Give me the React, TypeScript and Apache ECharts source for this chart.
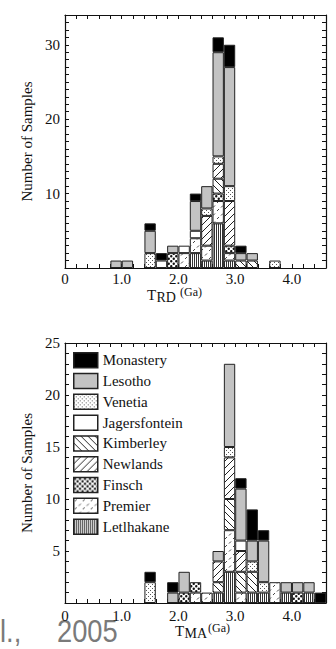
import React, { useEffect, useRef } from 'react';
import * as echarts from 'echarts';

// Histogram bins: 0.2 Ga wide, starting at 0.0 Ga (23 bins up to 4.6 Ga)
const BIN_WIDTH = 0.2;
const BIN_COUNT = 23;
const binLabels = Array.from({ length: BIN_COUNT }, (_, i) => (i * BIN_WIDTH).toFixed(1));

// Legend order (top to bottom)
const sites = ['Monastery', 'Lesotho', 'Venetia', 'Jagersfontein', 'Kimberley', 'Newlands', 'Finsch', 'Premier', 'Letlhakane'];
// Stacking order (bottom to top)
const stackOrder = ['Letlhakane', 'Premier', 'Finsch', 'Kimberley', 'Newlands', 'Jagersfontein', 'Venetia', 'Lesotho', 'Monastery'];

// T_RD model ages: samples per bin
const trdMonastery =    [0, 0, 0, 0, 0, 0, 0, 1, 1, 0, 0, 1, 0, 2, 3, 1, 0, 0, 0, 0, 0, 0, 0];
const trdLesotho =      [0, 0, 0, 0, 1, 1, 0, 3, 0, 1, 0, 4, 3, 14, 16, 1, 1, 0, 0, 0, 0, 0, 0];
const trdVenetia =      [0, 0, 0, 0, 0, 0, 0, 2, 0, 0, 0, 0, 1, 1, 2, 0, 0, 0, 1, 0, 0, 0, 0];
const trdJagersfontein = [0, 0, 0, 0, 0, 0, 0, 0, 1, 0, 1, 1, 0, 0, 0, 0, 0, 0, 0, 0, 0, 0, 0];
const trdKimberley =    [0, 0, 0, 0, 0, 0, 0, 0, 0, 0, 0, 0, 0, 2, 0, 1, 1, 0, 0, 0, 0, 0, 0];
const trdNewlands =     [0, 0, 0, 0, 0, 0, 0, 0, 0, 0, 0, 0, 4, 2, 6, 0, 0, 0, 0, 0, 0, 0, 0];
const trdFinsch =       [0, 0, 0, 0, 0, 0, 0, 0, 0, 2, 0, 0, 0, 1, 1, 0, 0, 0, 0, 0, 0, 0, 0];
const trdPremier =      [0, 0, 0, 0, 0, 0, 0, 0, 0, 0, 2, 2, 2, 3, 1, 0, 0, 0, 0, 0, 0, 0, 0];
const trdLetlhakane =   [0, 0, 0, 0, 0, 0, 0, 0, 0, 0, 0, 2, 1, 6, 1, 0, 0, 0, 0, 0, 0, 0, 0];

// T_MA model ages: samples per bin
const tmaMonastery =    [0, 0, 0, 0, 0, 0, 0, 1, 0, 1, 0, 0, 0, 0, 0, 1, 3, 1, 0, 0, 0, 0, 1];
const tmaLesotho =      [0, 0, 0, 0, 0, 0, 0, 0, 0, 1, 2, 0, 0, 1, 8, 5, 2, 4, 0, 1, 1, 1, 0];
const tmaVenetia =      [0, 0, 0, 0, 0, 0, 0, 2, 0, 0, 0, 0, 0, 0, 1, 0, 1, 1, 0, 0, 0, 0, 0];
const tmaJagersfontein = [0, 0, 0, 0, 0, 0, 0, 0, 0, 0, 0, 0, 0, 0, 0, 1, 0, 0, 0, 0, 0, 0, 0];
const tmaKimberley =    [0, 0, 0, 0, 0, 0, 0, 0, 0, 0, 0, 0, 0, 1, 3, 2, 2, 0, 0, 0, 0, 0, 0];
const tmaNewlands =     [0, 0, 0, 0, 0, 0, 0, 0, 0, 0, 0, 0, 0, 2, 4, 2, 0, 0, 0, 0, 0, 0, 0];
const tmaFinsch =       [0, 0, 0, 0, 0, 0, 0, 0, 0, 0, 1, 1, 0, 0, 0, 0, 0, 0, 0, 0, 1, 0, 0];
const tmaPremier =      [0, 0, 0, 0, 0, 0, 0, 0, 0, 0, 0, 1, 1, 0, 4, 1, 0, 0, 2, 0, 0, 0, 0];
const tmaLetlhakane =   [0, 0, 0, 0, 0, 0, 0, 0, 0, 0, 0, 0, 0, 1, 3, 0, 1, 1, 0, 1, 0, 1, 0];

const trdCounts: Record<string, number[]> = {
  Monastery: trdMonastery, Lesotho: trdLesotho, Venetia: trdVenetia, Jagersfontein: trdJagersfontein,
  Kimberley: trdKimberley, Newlands: trdNewlands, Finsch: trdFinsch, Premier: trdPremier, Letlhakane: trdLetlhakane,
};
const tmaCounts: Record<string, number[]> = {
  Monastery: tmaMonastery, Lesotho: tmaLesotho, Venetia: tmaVenetia, Jagersfontein: tmaJagersfontein,
  Kimberley: tmaKimberley, Newlands: tmaNewlands, Finsch: tmaFinsch, Premier: tmaPremier, Letlhakane: tmaLetlhakane,
};

const X_MAX = BIN_COUNT * BIN_WIDTH; // 4.6 Ga
const TRD_Y_MAX = 34;
const TMA_Y_MAX = 25;

const SERIF = '"Liberation Serif", "Times New Roman", serif';
const SANS = '"Liberation Sans", Arial, sans-serif';
const INK = '#111';

type Drawer = (ctx: CanvasRenderingContext2D, w: number, h: number) => void;

function makePattern(w: number, h: number, draw: Drawer) {
  const c = document.createElement('canvas');
  c.width = w;
  c.height = h;
  const ctx = c.getContext('2d')!;
  ctx.fillStyle = '#fff';
  ctx.fillRect(0, 0, w, h);
  draw(ctx, w, h);
  return { image: c, repeat: 'repeat', imageWidth: w, imageHeight: h };
}

function buildFills(): Record<string, any> {
  const diag = (dir: 1 | -1): Drawer => (ctx, w, h) => {
    ctx.strokeStyle = '#222';
    ctx.lineWidth = 1;
    for (let o = -w; o <= w; o += w) {
      ctx.beginPath();
      if (dir === 1) {
        ctx.moveTo(o, 0);
        ctx.lineTo(o + w, h);
      } else {
        ctx.moveTo(o, h);
        ctx.lineTo(o + w, 0);
      }
      ctx.stroke();
    }
  };
  return {
    Monastery: '#000',
    Lesotho: '#c3c3c3',
    Venetia: makePattern(4, 4, (ctx) => {
      ctx.fillStyle = '#555';
      ctx.fillRect(0, 0, 1, 1);
      ctx.fillRect(2, 2, 1, 1);
    }),
    Jagersfontein: '#fff',
    Kimberley: makePattern(7, 7, diag(1)),
    Newlands: makePattern(7, 7, diag(-1)),
    Finsch: makePattern(5, 5, (ctx) => {
      ctx.fillStyle = '#111';
      ctx.beginPath();
      ctx.arc(1.25, 1.25, 1.2, 0, Math.PI * 2);
      ctx.arc(3.75, 3.75, 1.2, 0, Math.PI * 2);
      ctx.fill();
      ctx.beginPath();
      ctx.arc(6.25, 1.25, 1.2, 0, Math.PI * 2);
      ctx.arc(-1.25, 3.75, 1.2, 0, Math.PI * 2);
      ctx.fill();
    }),
    Premier: makePattern(8, 8, (ctx) => {
      ctx.strokeStyle = '#333';
      ctx.lineWidth = 0.9;
      ctx.beginPath();
      ctx.moveTo(1, 3);
      ctx.lineTo(3, 1);
      ctx.moveTo(5, 7.5);
      ctx.lineTo(7, 5.5);
      ctx.stroke();
    }),
    Letlhakane: makePattern(2, 2, (ctx) => {
      ctx.fillStyle = '#333';
      ctx.fillRect(0, 0, 1, 2);
    }),
  };
}

const GRID_LEFT = 65;
const GRID_WIDTH = 261;
const grids = [
  { left: GRID_LEFT, top: 15, width: GRID_WIDTH, height: 253 },
  { left: GRID_LEFT, top: 343, width: GRID_WIDTH, height: 260 },
];

const axisLine = { show: true, onZero: false, lineStyle: { color: INK, width: 1.2 } };
const axisTick = { show: true, inside: true, length: 4, lineStyle: { color: INK, width: 1 } };

// Value axis that carries the Ga ticks and labels
function xAxisFor(gridIndex: number, position: 'top' | 'bottom', labelMargin: number) {
  return {
    type: 'value',
    gridIndex,
    position,
    min: 0,
    max: X_MAX,
    interval: BIN_WIDTH,
    axisLine,
    axisTick,
    splitLine: { show: false },
    axisLabel: {
      show: position === 'bottom',
      margin: labelMargin,
      fontFamily: SERIF,
      fontSize: 15,
      color: INK,
      formatter: (v: number) => {
        if (Math.abs(v - Math.round(v)) > 1e-6 || v > 4.01) return '';
        return Math.round(v) === 0 ? '0' : v.toFixed(1);
      },
    },
  };
}

// Hidden band axis: one band per 0.2 Ga bin, used by the stacked bars
function binAxisFor(gridIndex: number) {
  return {
    type: 'category',
    gridIndex,
    data: binLabels,
    boundaryGap: true,
    show: false,
  };
}

function yAxisFor(gridIndex: number, position: 'left' | 'right', max: number, labelStep: number) {
  return {
    type: 'value',
    gridIndex,
    position,
    min: 0,
    max,
    interval: 1,
    axisLine,
    axisTick,
    splitLine: { show: false },
    name: position === 'left' ? 'Number of Samples' : '',
    nameLocation: 'middle',
    nameGap: 30,
    nameTextStyle: { fontFamily: SERIF, fontSize: 15, color: INK },
    axisLabel: {
      show: position === 'left',
      margin: 5,
      fontFamily: SERIF,
      fontSize: 15,
      color: INK,
      formatter: (v: number) => (v > 0 && v % labelStep === 0 ? String(v) : ''),
    },
  };
}

function buildSeries(fills: Record<string, any>) {
  const out: any[] = [];
  [trdCounts, tmaCounts].forEach((counts, g) => {
    stackOrder.forEach((site) => {
      out.push({
        type: 'bar',
        name: site,
        xAxisIndex: g * 3 + 2,
        yAxisIndex: g * 2,
        stack: 'ages' + g,
        barWidth: '100%',
        data: counts[site].map((c) => (c > 0 ? c : '-')),
        itemStyle: { color: fills[site], borderColor: '#222', borderWidth: 1 },
        emphasis: { disabled: true },
      });
    });
  });
  return out;
}

function axisTitle(x: number, y: number, sub: string) {
  return [
    { type: 'text', left: x, top: y, style: { text: 'T', fontFamily: SERIF, fontSize: 15, fill: INK } },
    { type: 'text', left: x + 9.5, top: y + 3.5, style: { text: sub, fontFamily: SERIF, fontSize: 14, fill: INK } },
    { type: 'text', left: x + 33, top: y - 1, style: { text: '(Ga)', fontFamily: SERIF, fontSize: 12, fill: INK } },
  ];
}

const citeStyle = { fontFamily: SANS, fontSize: 31, lineHeight: 31, fill: '#7a7a7a' };

export default function App() {
  const ref = useRef<HTMLDivElement>(null);

  useEffect(() => {
    if (!ref.current) return;
    const chart = echarts.init(ref.current, undefined, { renderer: 'svg' });
    const fills = buildFills();
    chart.setOption({
      animation: false,
      backgroundColor: '#fff',
      grid: grids,
      xAxis: [
        xAxisFor(0, 'bottom', 3), xAxisFor(0, 'top', 3), binAxisFor(0),
        xAxisFor(1, 'bottom', 5), xAxisFor(1, 'top', 5), binAxisFor(1),
      ],
      yAxis: [
        yAxisFor(0, 'left', TRD_Y_MAX, 10),
        yAxisFor(0, 'right', TRD_Y_MAX, 10),
        yAxisFor(1, 'left', TMA_Y_MAX, 5),
        yAxisFor(1, 'right', TMA_Y_MAX, 5),
      ],
      legend: {
        data: sites,
        orient: 'vertical',
        left: 73,
        top: 352,
        padding: 0,
        itemWidth: 24,
        itemHeight: 15,
        itemGap: 4.3,
        icon: 'rect',
        selectedMode: false,
        itemStyle: { borderColor: '#222', borderWidth: 1.5 },
        textStyle: { fontFamily: SERIF, fontSize: 15, color: INK, lineHeight: 15 },
      },
      graphic: [
        ...axisTitle(147, 287, 'RD'),
        ...axisTitle(175, 623, 'MA'),
        { type: 'text', x: 0, y: 616, scaleX: 0.88, style: { ...citeStyle, text: 'l.,' } },
        { type: 'text', x: 57, y: 616, scaleX: 0.88, style: { ...citeStyle, text: '2005' } },
      ],
      series: buildSeries(fills),
    });
    return () => chart.dispose();
  }, []);

  return (
    <div
      ref={ref}
      style={{ position: 'fixed', left: 0, top: 0, width: 336, height: 649, background: '#fff' }}
    />
  );
}
